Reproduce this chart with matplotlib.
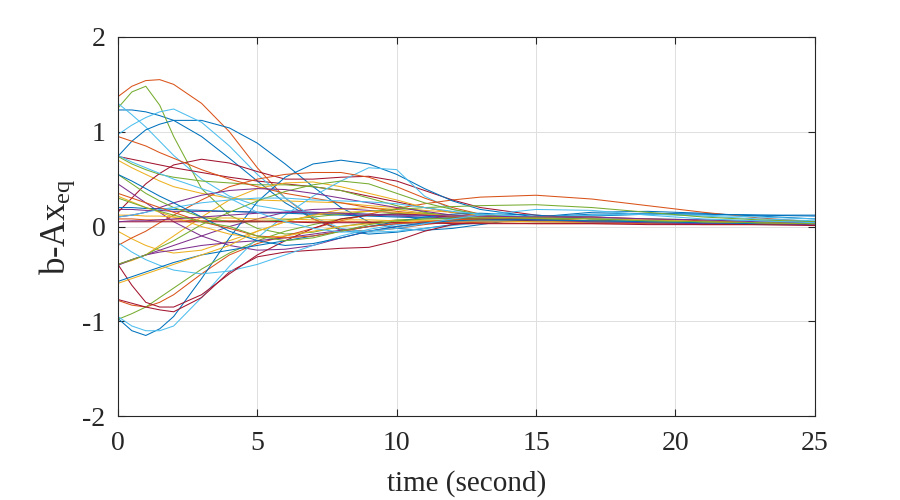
import numpy as np
import matplotlib
matplotlib.use("Agg")
import matplotlib.pyplot as plt

# sample times (s)
t = [0, 0.5, 1, 1.5, 2, 3, 4, 5, 6, 7, 8, 9, 10, 11, 12, 13, 15, 17, 19, 21, 23, 25]

# residuals b - A*x_eq, one list per component
b1 = [1.23, 1.23, 1.21, 1.17, 1.12, 0.95, 0.72, 0.48, 0.25, 0.08, -0.04, -0.08, -0.06, -0.02, 0.02, 0.05, 0.10, 0.13, 0.14, 0.13, 0.12, 0.11]
o1 = [1.37, 1.48, 1.54, 1.55, 1.50, 1.30, 1.00, 0.62, 0.30, 0.08, -0.03, -0.05, -0.02, 0.02, 0.05, 0.07, 0.07, 0.06, 0.05, 0.04, 0.03, 0.02]
y1 = [0.70, 0.62, 0.55, 0.48, 0.42, 0.35, 0.30, 0.28, 0.27, 0.26, 0.25, 0.22, 0.20, 0.17, 0.15, 0.12, 0.10, 0.09, 0.08, 0.07, 0.06, 0.05]
p1 = [0.18, 0.18, 0.17, 0.17, 0.16, 0.16, 0.16, 0.15, 0.15, 0.14, 0.13, 0.12, 0.11, 0.10, 0.09, 0.08, 0.07, 0.06, 0.05, 0.04, 0.04, 0.03]
g1 = [1.25, 1.42, 1.48, 1.28, 0.95, 0.40, 0.12, -0.02, -0.08, -0.06, 0.00, 0.04, 0.07, 0.08, 0.08, 0.07, 0.06, 0.05, 0.04, 0.03, 0.03, 0.02]
c1 = [1.30, 1.18, 1.05, 0.90, 0.75, 0.50, 0.32, 0.22, 0.17, 0.15, 0.14, 0.13, 0.12, 0.11, 0.10, 0.10, 0.10, 0.09, 0.08, 0.07, 0.06, 0.05]
r1 = [0.74, 0.71, 0.68, 0.65, 0.62, 0.57, 0.52, 0.48, 0.45, 0.42, 0.38, 0.32, 0.26, 0.20, 0.15, 0.11, 0.08, 0.06, 0.05, 0.04, 0.03, 0.03]

b2 = [0.74, 0.90, 1.02, 1.08, 1.12, 1.12, 1.04, 0.88, 0.66, 0.42, 0.20, 0.05, -0.02, -0.04, -0.02, 0.02, 0.10, 0.15, 0.16, 0.14, 0.11, 0.08]
o2 = [-0.78, -0.83, -0.85, -0.80, -0.72, -0.50, -0.30, -0.18, -0.10, -0.02, 0.06, 0.13, 0.19, 0.24, 0.28, 0.31, 0.33, 0.29, 0.22, 0.15, 0.09, 0.05]
y2 = [-0.05, -0.13, -0.20, -0.25, -0.28, -0.25, -0.15, -0.05, 0.05, 0.12, 0.18, 0.20, 0.18, 0.14, 0.10, 0.08, 0.06, 0.05, 0.04, 0.03, 0.03, 0.02]
p2 = [-0.40, -0.35, -0.30, -0.25, -0.20, -0.10, 0.00, 0.08, 0.15, 0.18, 0.19, 0.17, 0.14, 0.12, 0.10, 0.08, 0.06, 0.05, 0.04, 0.03, 0.03, 0.02]
g2 = [0.74, 0.66, 0.60, 0.55, 0.52, 0.48, 0.46, 0.44, 0.44, 0.42, 0.38, 0.30, 0.22, 0.15, 0.10, 0.08, 0.06, 0.05, 0.04, 0.03, 0.03, 0.02]
c2 = [0.97, 1.07, 1.15, 1.21, 1.24, 1.10, 0.85, 0.55, 0.30, 0.10, -0.02, -0.06, -0.05, -0.02, 0.01, 0.04, 0.09, 0.12, 0.13, 0.11, 0.08, 0.06]
r2 = [0.15, 0.30, 0.45, 0.56, 0.65, 0.71, 0.67, 0.58, 0.50, 0.50, 0.52, 0.53, 0.48, 0.38, 0.28, 0.20, 0.12, 0.08, 0.06, 0.05, 0.04, 0.03]

b3 = [-0.97, -1.10, -1.15, -1.08, -0.95, -0.55, -0.12, 0.26, 0.52, 0.66, 0.70, 0.66, 0.55, 0.40, 0.27, 0.18, 0.10, 0.11, 0.13, 0.13, 0.12, 0.12]
o3 = [0.95, 0.90, 0.85, 0.78, 0.72, 0.60, 0.50, 0.42, 0.35, 0.30, 0.25, 0.20, 0.16, 0.13, 0.10, 0.08, 0.06, 0.05, 0.04, 0.03, 0.03, 0.02]
y3 = [-0.40, -0.36, -0.30, -0.20, -0.10, 0.10, 0.28, 0.40, 0.46, 0.47, 0.42, 0.35, 0.28, 0.20, 0.15, 0.12, 0.08, 0.06, 0.05, 0.04, 0.03, 0.03]
p3 = [0.45, 0.35, 0.25, 0.15, 0.05, -0.10, -0.20, -0.25, -0.24, -0.20, -0.12, -0.05, 0.00, 0.03, 0.05, 0.06, 0.06, 0.05, 0.04, 0.04, 0.03, 0.03]
g3 = [-0.98, -0.92, -0.85, -0.75, -0.65, -0.45, -0.28, -0.15, -0.05, 0.02, 0.08, 0.12, 0.14, 0.14, 0.12, 0.10, 0.07, 0.05, 0.04, 0.03, 0.03, 0.02]
c3 = [-0.95, -1.05, -1.10, -1.10, -1.05, -0.75, -0.42, -0.12, 0.12, 0.32, 0.48, 0.62, 0.60, 0.32, 0.18, 0.12, 0.10, 0.12, 0.13, 0.12, 0.10, 0.08]
r3 = [-0.77, -0.81, -0.85, -0.88, -0.90, -0.75, -0.48, -0.32, -0.27, -0.25, -0.23, -0.22, -0.15, -0.05, 0.02, 0.05, 0.07, 0.06, 0.05, 0.04, 0.03, 0.02]

b4 = [0.20, 0.20, 0.19, 0.19, 0.18, 0.17, 0.16, 0.15, 0.14, 0.13, 0.12, 0.11, 0.10, 0.09, 0.08, 0.08, 0.07, 0.06, 0.05, 0.05, 0.04, 0.04]
o4 = [-0.20, -0.12, -0.05, 0.04, 0.12, 0.28, 0.42, 0.50, 0.55, 0.57, 0.57, 0.52, 0.42, 0.30, 0.20, 0.13, 0.08, 0.06, 0.05, 0.04, 0.03, 0.02]
y4 = [0.12, 0.12, 0.11, 0.11, 0.10, 0.09, 0.09, 0.08, 0.08, 0.07, 0.07, 0.07, 0.06, 0.06, 0.06, 0.05, 0.05, 0.04, 0.04, 0.03, 0.03, 0.03]
p4 = [-0.41, -0.35, -0.30, -0.27, -0.25, -0.20, -0.17, -0.15, -0.12, -0.08, -0.04, 0.00, 0.03, 0.05, 0.06, 0.06, 0.05, 0.05, 0.04, 0.03, 0.03, 0.02]
g4 = [-0.40, -0.35, -0.30, -0.22, -0.15, 0.02, 0.15, 0.27, 0.37, 0.44, 0.48, 0.45, 0.35, 0.25, 0.18, 0.13, 0.08, 0.06, 0.05, 0.04, 0.03, 0.02]
c4 = [-0.17, -0.27, -0.35, -0.41, -0.46, -0.50, -0.47, -0.40, -0.30, -0.20, -0.10, -0.03, 0.02, 0.05, 0.06, 0.06, 0.06, 0.05, 0.04, 0.04, 0.03, 0.03]
r4 = [-0.40, -0.62, -0.80, -0.85, -0.85, -0.72, -0.50, -0.30, -0.15, -0.02, 0.08, 0.12, 0.13, 0.12, 0.10, 0.08, 0.06, 0.05, 0.04, 0.03, 0.03, 0.02]

b5 = [-0.58, -0.53, -0.48, -0.43, -0.38, -0.30, -0.25, -0.20, -0.15, -0.10, -0.05, 0.00, 0.05, 0.10, 0.13, 0.14, 0.12, 0.08, 0.05, 0.03, 0.02, 0.02]
o5 = [0.08, 0.08, 0.07, 0.07, 0.07, 0.06, 0.06, 0.06, 0.05, 0.05, 0.05, 0.05, 0.04, 0.04, 0.04, 0.04, 0.03, 0.03, 0.03, 0.02, 0.02, 0.02]
y5 = [0.32, 0.26, 0.20, 0.15, 0.10, 0.00, -0.08, -0.12, -0.10, -0.05, 0.00, 0.03, 0.05, 0.06, 0.06, 0.06, 0.05, 0.05, 0.04, 0.04, 0.03, 0.03]
p5 = [0.10, 0.12, 0.15, 0.20, 0.25, 0.33, 0.38, 0.40, 0.39, 0.35, 0.30, 0.25, 0.20, 0.16, 0.12, 0.10, 0.07, 0.05, 0.04, 0.03, 0.03, 0.02]
g5 = [0.55, 0.45, 0.35, 0.27, 0.20, 0.10, 0.05, 0.05, 0.07, 0.10, 0.13, 0.16, 0.18, 0.20, 0.21, 0.22, 0.23, 0.20, 0.15, 0.10, 0.07, 0.05]
c5 = [0.10, 0.12, 0.15, 0.18, 0.20, 0.25, 0.28, 0.30, 0.30, 0.28, 0.27, 0.26, 0.24, 0.20, 0.16, 0.13, 0.10, 0.08, 0.06, 0.05, 0.04, 0.03]
r5 = [0.05, 0.05, 0.05, 0.05, 0.05, 0.05, 0.05, 0.05, 0.05, 0.04, 0.04, 0.04, 0.04, 0.04, 0.03, 0.03, 0.03, 0.03, 0.02, 0.02, 0.02, 0.01]

b6 = [0.55, 0.48, 0.40, 0.32, 0.25, 0.10, -0.05, -0.15, -0.20, -0.18, -0.12, -0.05, 0.00, 0.04, 0.06, 0.07, 0.07, 0.06, 0.05, 0.04, 0.03, 0.03]
o6 = [0.35, 0.30, 0.25, 0.20, 0.15, 0.05, -0.02, -0.10, -0.12, -0.10, -0.05, 0.00, 0.03, 0.05, 0.07, 0.08, 0.10, 0.10, 0.08, 0.06, 0.04, 0.03]
y6 = [-0.60, -0.55, -0.50, -0.45, -0.40, -0.30, -0.20, -0.05, 0.05, 0.12, 0.15, 0.16, 0.15, 0.13, 0.11, 0.10, 0.09, 0.08, 0.07, 0.05, 0.04, 0.03]
p6 = [0.05, 0.06, 0.06, 0.07, 0.08, 0.10, 0.12, 0.14, 0.15, 0.15, 0.14, 0.13, 0.12, 0.12, 0.11, 0.11, 0.10, 0.10, 0.08, 0.07, 0.05, 0.04]
g6 = [0.30, 0.25, 0.20, 0.16, 0.12, 0.05, 0.00, -0.10, -0.15, -0.12, -0.05, 0.02, 0.06, 0.08, 0.09, 0.09, 0.09, 0.08, 0.06, 0.05, 0.04, 0.03]
c6 = [0.75, 0.68, 0.62, 0.56, 0.50, 0.40, 0.30, 0.15, 0.05, -0.02, -0.06, -0.05, -0.02, 0.03, 0.08, 0.12, 0.18, 0.17, 0.12, 0.08, 0.06, 0.04]

# order follows the matlab colour cycle
series = [b1, o1, y1, p1, g1, c1, r1,
          b2, o2, y2, p2, g2, c2, r2,
          b3, o3, y3, p3, g3, c3, r3,
          b4, o4, y4, p4, g4, c4, r4,
          b5, o5, y5, p5, g5, c5, r5,
          b6, o6, y6, p6, g6, c6]

matlab_colors = ['#0072BD', '#D95319', '#EDB120', '#7E2F8E', '#77AC30', '#4DBEEE', '#A2142F']

plt.rcParams['font.family'] = ['Liberation Serif', 'DejaVu Serif']
plt.rcParams['mathtext.fontset'] = 'custom'
plt.rcParams['mathtext.rm'] = 'Liberation Serif'
plt.rcParams['mathtext.it'] = 'Liberation Serif'
plt.rcParams['axes.unicode_minus'] = False

fig = plt.figure(figsize=(9, 5), dpi=100)
ax = fig.add_axes([0.131, 0.168, 0.7744, 0.758])
ax.set_prop_cycle(color=matlab_colors)

for s in series:
    ax.plot(t, s, linewidth=0.75)

ax.set_xlim(0, 25)
ax.set_ylim(-2, 2)
ax.set_xticks([0, 5, 10, 15, 20, 25])
ax.set_yticks([-2, -1, 0, 1, 2])
ax.grid(True, color='#dedede', linewidth=0.7)
ax.set_axisbelow(True)
ax.tick_params(direction='in', length=5, width=0.8, top=True, right=True,
               labelsize=20, colors='#262626')
ax.tick_params(axis='x', pad=11)
ax.tick_params(axis='y', pad=9)
for sp in ax.spines.values():
    sp.set_color('#262626')
    sp.set_linewidth(0.8)

ax.set_xlabel('time (second)', fontsize=21, color='#262626', labelpad=10)
ax.set_ylabel(r'b-Ax$_{\mathrm{eq}}$', fontsize=25, color='#262626', labelpad=4)

fig.savefig('out.png', dpi=100)
